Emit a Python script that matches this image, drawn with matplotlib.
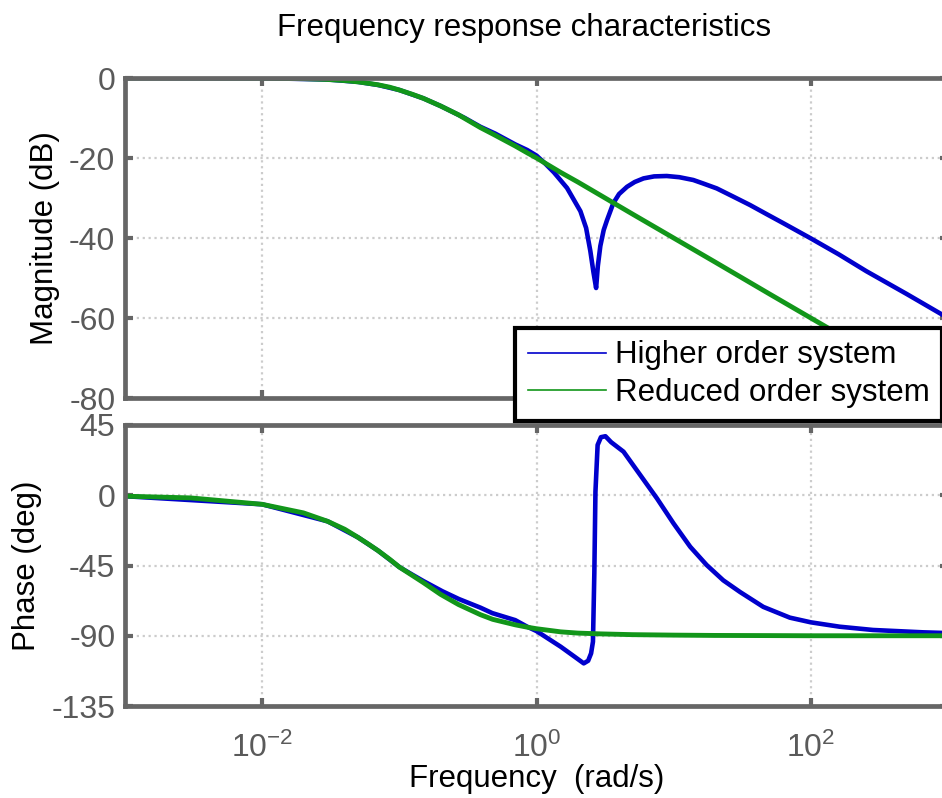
import matplotlib
matplotlib.use("Agg")
import matplotlib.pyplot as plt
from matplotlib.ticker import NullLocator, FixedLocator, LogFormatterSciNotation
from matplotlib.lines import Line2D

plt.rcParams['font.family'] = ['Liberation Sans', 'DejaVu Sans']
plt.rcParams['mathtext.fontset'] = 'custom'
plt.rcParams['mathtext.rm'] = 'Liberation Sans'
plt.rcParams['mathtext.it'] = 'Liberation Sans'
plt.rcParams['axes.unicode_minus'] = False

# reduced order system (green)
w_red = [0.001, 0.003, 0.01, 0.02, 0.03, 0.04, 0.05, 0.06, 0.07, 0.085, 0.1, 0.125,
         0.15, 0.2, 0.27, 0.39, 0.48, 0.7, 0.855, 1.0, 1.5, 2.0, 2.92, 5.0, 10, 20,
         50, 100, 200, 500, 1000]
mag_red = [0.0, 0.0, -0.04, -0.17, -0.37, -0.65, -0.97, -1.35, -1.7, -2.3, -3.0,
           -4.1, -5.1, -7.0, -9.2, -12.4, -14.0, -17.0, -18.7, -20.0, -23.6, -26.0,
           -29.3, -34.0, -40.0, -46.0, -54.0, -60.0, -66.0, -74.0, -80.0]
ph_red = [-0.6, -1.7, -5.8, -11.3, -16.7, -21.8, -27.0, -31.5, -35.5, -41.0, -46.0,
          -51.5, -56.0, -63.5, -70.0, -76.5, -79.5, -83.0, -84.5, -85.5, -87.5,
          -88.3, -88.8, -89.3, -89.6, -89.8, -89.9, -90.0, -90.0, -90.0, -90.0]

# higher order system (blue) magnitude
w_hi_mag = [0.001, 0.01, 0.03, 0.05, 0.07, 0.1, 0.15, 0.2, 0.3, 0.39, 0.5, 0.7,
            0.855, 1.0, 1.15, 1.34, 1.67, 2.09, 2.3, 2.47, 2.6, 2.72, 2.8, 2.92,
            3.09, 3.27, 3.63, 4.0, 4.57, 5.2, 6.03, 7.2, 8.9, 11, 13.9, 16.5, 20.6,
            27, 36, 48, 63, 100, 160, 254, 500, 1000]
mag_hi = [0.0, -0.04, -0.37, -0.97, -1.74, -3.0, -5.1, -7.0, -10.0, -12.2, -13.9,
          -16.6, -18.0, -19.4, -21.3, -23.6, -27.5, -33.3, -37.5, -43.3, -48.5,
          -52.5, -47.0, -42.0, -38.0, -35.5, -31.3, -29.0, -27.2, -26.0, -25.1,
          -24.6, -24.5, -24.8, -25.5, -26.4, -27.6, -29.6, -31.75, -34.1, -36.3,
          -40.1, -44.1, -48.3, -54.0, -60.0]

# higher order system (blue) phase
w_hi_ph = [0.001, 0.01, 0.03, 0.05, 0.07, 0.1, 0.125, 0.15, 0.206, 0.272, 0.39,
           0.476, 0.7, 0.855, 1.0, 1.5, 1.9, 2.21, 2.38, 2.5, 2.58, 2.64, 2.69, 2.79,
           2.95, 3.18, 3.5, 4.31, 5.7, 7.55, 9.97, 13.2, 17.4, 23.0, 30.5, 45.0,
           70.3, 100, 162, 284, 656, 1000]
ph_hi = [-0.6, -5.8, -16.7, -27.0, -35.5, -46.0, -51.0, -55.0, -61.5, -66.5, -72.0,
         -75.5, -80.0, -84.2, -87.0, -97.0, -103.5, -107.7, -106.0, -101.3, -93.8,
         -50.0, 2.3, 32.2, 37.2, 37.8, 34.0, 27.9, 13.0, -2.0, -18.0, -33.0, -44.7,
         -54.5, -62.0, -71.5, -78.4, -81.4, -84.2, -86.3, -87.8, -88.3]

mag_ticks = [-80, -60, -40, -20, 0]
ph_ticks = [-135, -90, -45, 0, 45]
freq_ticks = [1e-2, 1e0, 1e2]

blue = '#0000cc'
green = '#12961a'
spine_gray = '#666666'
W, H = 942, 798

fig = plt.figure(figsize=(W / 100, H / 100), dpi=100)
ax1 = fig.add_axes([125 / W, 1 - 398 / H, 823 / W, 320 / H])
ax2 = fig.add_axes([125 / W, 1 - 706 / H, 823 / W, 281 / H])

ax1.plot(w_hi_mag, mag_hi, color=blue, lw=3.3, solid_joinstyle='round')
ax1.plot(w_red, mag_red, color=green, lw=3.5, solid_joinstyle='round')
ax2.plot(w_hi_ph, ph_hi, color=blue, lw=3.3, solid_joinstyle='round')
ax2.plot(w_red, ph_red, color=green, lw=3.5, solid_joinstyle='round')

for ax, ticks in [(ax1, mag_ticks), (ax2, ph_ticks)]:
    ax.set_xscale('log')
    ax.set_xlim(1e-3, 1e3)
    ax.set_ylim(ticks[0], ticks[-1])
    ax.set_yticks(ticks)
    ax.xaxis.set_major_locator(FixedLocator(freq_ticks))
    ax.xaxis.set_major_formatter(LogFormatterSciNotation())
    ax.xaxis.set_minor_locator(NullLocator())
    ax.grid(True, color='#cccccc', ls=':', lw=1.6)
    ax.set_axisbelow(True)
    for s in ax.spines.values():
        s.set_color(spine_gray)
        s.set_linewidth(3.4)
    ax.tick_params(direction='in', length=6, width=3, color=spine_gray,
                   labelcolor='#5a5a5a', labelsize=23, top=True, right=True)
    ax.tick_params(axis='y', pad=7)
    ax.tick_params(axis='x', pad=19)

ax1.tick_params(labelbottom=False)
ax1.set_ylabel('Magnitude (dB)', fontsize=22.5)
ax2.set_ylabel('Phase (deg)', fontsize=22.5)
ax1.yaxis.set_label_coords(-0.079, 0.5)
ax2.yaxis.set_label_coords(-0.101, 0.5)
ax2.set_xlabel('Frequency  (rad/s)', fontsize=22.5, labelpad=0)

fig.text(524 / W, 1 - 28 / H, 'Frequency response characteristics',
         fontsize=22.5, ha='center', va='center')

handles = [Line2D([], [], color=blue, lw=1.2), Line2D([], [], color=green, lw=1.2)]
leg = fig.legend(handles, ['Higher order system', 'Reduced order system'],
                 loc='upper left', bbox_to_anchor=(515 / W, 1 - 328 / H),
                 bbox_transform=fig.transFigure, fontsize=22.5, fancybox=False,
                 framealpha=1, edgecolor='black', borderpad=0.4, handlelength=2.5,
                 handletextpad=0.3, labelspacing=0.25, borderaxespad=0)
leg.get_frame().set_linewidth(3)

fig.savefig('out.png', dpi=100)
